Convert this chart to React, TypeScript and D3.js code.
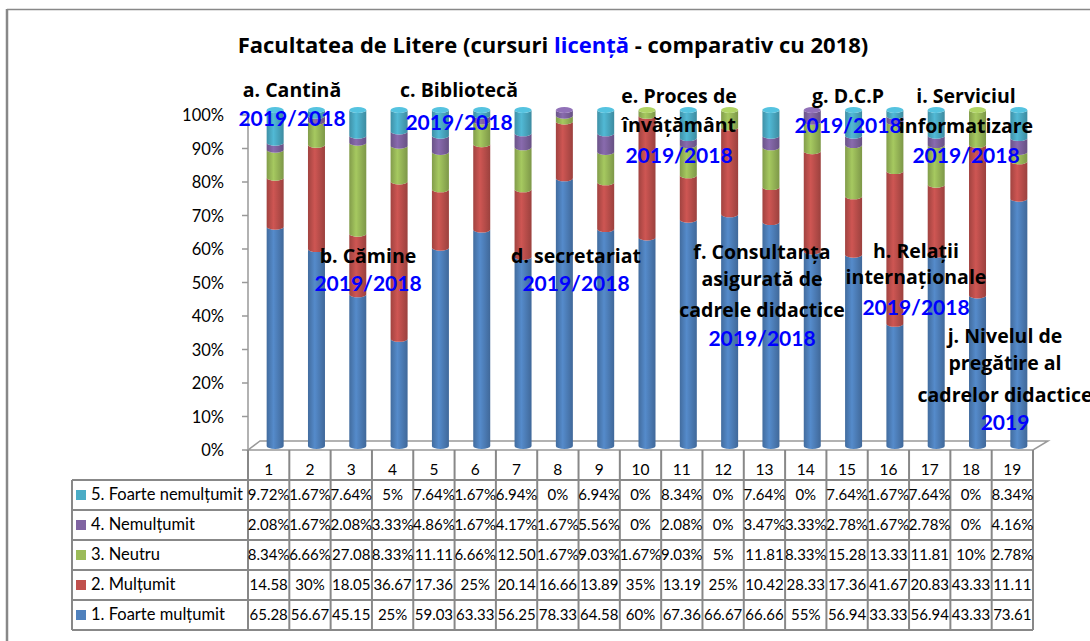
import React from "react";
import * as d3 from "d3";

const categories = ["1","2","3","4","5","6","7","8","9","10","11","12","13","14","15","16","17","18","19"];
const seriesNames = ["1. Foarte mulțumit", "2. Mulțumit", "3. Neutru", "4. Nemulțumit", "5. Foarte nemulțumit"];
const foarteMultumit = [65.28,56.67,45.15,25,59.03,63.33,56.25,78.33,64.58,60,67.36,66.67,66.66,55,56.94,33.33,56.94,43.33,73.61];
const multumit = [14.58,30,18.05,36.67,17.36,25,20.14,16.66,13.89,35,13.19,25,10.42,28.33,17.36,41.67,20.83,43.33,11.11];
const neutru = [8.34,6.66,27.08,8.33,11.11,6.66,12.5,1.67,9.03,1.67,9.03,5,11.81,8.33,15.28,13.33,11.81,10,2.78];
const nemultumit = [2.08,1.67,2.08,3.33,4.86,1.67,4.17,1.67,5.56,0,2.08,0,3.47,3.33,2.78,1.67,2.78,0,4.16];
const foarteNemultumit = [9.72,1.67,7.64,5,7.64,1.67,6.94,0,6.94,0,8.34,0,7.64,0,7.64,1.67,7.64,0,8.34];
const yTicks = [0,10,20,30,40,50,60,70,80,90,100];

const colors = ["#4F81BD", "#C0504D", "#9BBB59", "#8064A2", "#4BACC6"];
const seriesValues = [foarteMultumit, multumit, neutru, nemultumit, foarteNemultumit];

const annotations = [
  { cx: 292, lines: [["a. Cantină", 97, 0], ["2019/2018", 126, 1]] },
  { cx: 368, lines: [["b. Cămine", 263, 0], ["2019/2018", 291, 1]] },
  { cx: 459, lines: [["c. Bibliotecă", 97, 0], ["2019/2018", 130, 1]] },
  { cx: 576, lines: [["d. secretariat", 263, 0], ["2019/2018", 291, 1]] },
  { cx: 679, lines: [["e. Proces de", 103, 0], ["învățământ", 132, 0], ["2019/2018", 163, 1]] },
  { cx: 762, lines: [["f. Consultanța", 259, 0], ["asigurată de", 286, 0], ["cadrele didactice", 317, 0], ["2019/2018", 346, 1]] },
  { cx: 848, lines: [["g. D.C.P", 103, 0], ["2019/2018", 133, 1]] },
  { cx: 916, lines: [["h. Relații", 258, 0], ["internaționale", 284, 0], ["2019/2018", 315, 1]] },
  { cx: 966, lines: [["i. Serviciul", 103, 0], ["informatizare", 133, 0], ["2019/2018", 163, 1]] },
  { cx: 1005, lines: [["j. Nivelul de", 343, 0], ["pregătire al", 370, 0], ["cadrelor didactice", 402, 0], ["2019", 430, 1]] },
];

function fmt(v: number) {
  const s = Number.isInteger(v) ? String(v) : v.toFixed(2);
  return (s + "%").length > 5 ? s : s + "%";
}

export default function App() {
  const W = 1090, H = 641;
  const plotLeft = 248, plotRight = 1033;
  const x = d3.scaleBand<string>().domain(categories).range([plotLeft, plotRight]).padding(0);
  const yAxis = d3.scaleLinear().domain([0, 100]).range([450, 115]);
  const yBar = d3.scaleLinear().domain([0, 1]).range([446, 110]);
  const depthDx = 6.5;
  const barW = 17;
  const rx = barW / 2, ry = 3;

  const rows = categories.map((c, i) => {
    const o: any = { cat: c };
    seriesValues.forEach((s, k) => (o["s" + k] = s[i]));
    return o;
  });
  const keys = seriesValues.map((_, k) => "s" + k);
  const stacked = d3.stack().keys(keys).offset(d3.stackOffsetExpand)(rows);

  const font = "Lato, 'Open Sans', sans-serif";
  const boldFont = "'Open Sans', Lato, sans-serif";
  const tableTop = 480, rowH = 30, tableLeft = 72;
  const tableRows = [4, 3, 2, 1, 0];

  const gradId = (k: number) => "cyl" + k;

  return (
    <svg width={W} height={H} style={{ position: "absolute", left: 0, top: 0, background: "#fff" }} fontFamily={font}>
      <defs>
        {colors.map((c, k) => {
          const col = d3.color(c)!;
          return (
            <linearGradient key={k} id={gradId(k)} x1="0" x2="1" y1="0" y2="0">
              <stop offset="0" stopColor={col.darker(0.5).toString()} />
              <stop offset="0.4" stopColor={col.brighter(0.2).toString()} />
              <stop offset="1" stopColor={col.darker(0.6).toString()} />
            </linearGradient>
          );
        })}
      </defs>
      <rect x={0} y={0} width={W} height={H} fill="#fff" />
      <line x1={7} y1={9.5} x2={W} y2={9.5} stroke="#888" strokeWidth={1.5} />
      <line x1={7} y1={9} x2={7} y2={H} stroke="#888" strokeWidth={2.5} />

      <text x={553} y={53} textAnchor="middle" fontSize={22} fontWeight="bold" fill="#000" fontFamily={boldFont}>
        Facultatea de Litere (cursuri <tspan fill="#0000FF">licență</tspan> - comparativ cu 2018)
      </text>

      <polygon points={`${plotLeft},450 ${plotRight},450 ${plotRight + 15},441 ${plotLeft + 12},441`} fill="#fff" stroke="#999" strokeWidth={1.5} />

      <line x1={plotLeft} y1={yAxis(100)} x2={plotLeft} y2={450} stroke="#999" strokeWidth={1.5} />
      {yTicks.map((t) => (
        <g key={t}>
          <line x1={242} x2={plotLeft} y1={yAxis(t)} y2={yAxis(t)} stroke="#999" strokeWidth={1.5} />
          <text x={224} y={yAxis(t) + 6} textAnchor="end" fontSize={16.5} fill="#000">{t + "%"}</text>
        </g>
      ))}

      {categories.map((c, i) => {
        const cx = x(c)! + x.bandwidth() / 2 + depthDx;
        const x0 = cx - rx, x1 = cx + rx;
        let topK = 0;
        stacked.forEach((s, k) => { if (s[i][1] - s[i][0] > 0) topK = k; });
        return (
          <g key={c}>
            {stacked.map((s, k) => {
              const d = s[i];
              if (d[1] - d[0] <= 0) return null;
              const yb = yBar(d[0]), yt = yBar(d[1]);
              const p = `M${x0},${yt} A${rx},${ry} 0 0 0 ${x1},${yt} L${x1},${yb} A${rx},${ry} 0 0 1 ${x0},${yb} Z`;
              return <path key={k} d={p} fill={`url(#${gradId(k)})`} />;
            })}
            <ellipse cx={cx} cy={yBar(1)} rx={rx} ry={ry} fill={d3.color(colors[topK])!.brighter(0.35).toString()} />
          </g>
        );
      })}

      {annotations.map((a, j) => (
        <g key={j}>
          {a.lines.map((l: any, m) => (
            <text key={m} x={a.cx} y={l[1]} textAnchor="middle" fontWeight="bold"
              fontFamily={l[2] ? font : boldFont}
              fontSize={l[2] ? 21 : 19.5} fill={l[2] ? "#0000FF" : "#000"}>{l[0]}</text>
          ))}
        </g>
      ))}

      <g stroke="#888" strokeWidth={2}>
        {categories.map((c, i) => (
          <line key={"v" + i} x1={x(c)!} x2={x(c)!} y1={450} y2={tableTop + rowH * 5} />
        ))}
        <line x1={plotRight} x2={plotRight} y1={450} y2={tableTop + rowH * 5} />
        <line x1={tableLeft} x2={tableLeft} y1={tableTop} y2={tableTop + rowH * 5} />
        {d3.range(6).map((r) => (
          <line key={"h" + r} x1={tableLeft} x2={plotRight} y1={tableTop + r * rowH} y2={tableTop + r * rowH} />
        ))}
      </g>
      {categories.map((c) => (
        <text key={"c" + c} x={x(c)! + x.bandwidth() / 2} y={475} textAnchor="middle" fontSize={15.5} fill="#000">{c}</text>
      ))}
      {tableRows.map((k, r) => {
        const ty = tableTop + r * rowH;
        return (
          <g key={"r" + k}>
            <rect x={76} y={ty + 10} width={10} height={10} fill={colors[k]} />
            <text x={91} y={ty + 20} fontSize={16.5} fill="#000">{seriesNames[k]}</text>
            {categories.map((c, i) => (
              <text key={c} x={x(c)! + x.bandwidth() / 2} y={ty + 20} textAnchor="middle" fontSize={15} fill="#000">
                {fmt(seriesValues[k][i])}
              </text>
            ))}
          </g>
        );
      })}
    </svg>
  );
}
